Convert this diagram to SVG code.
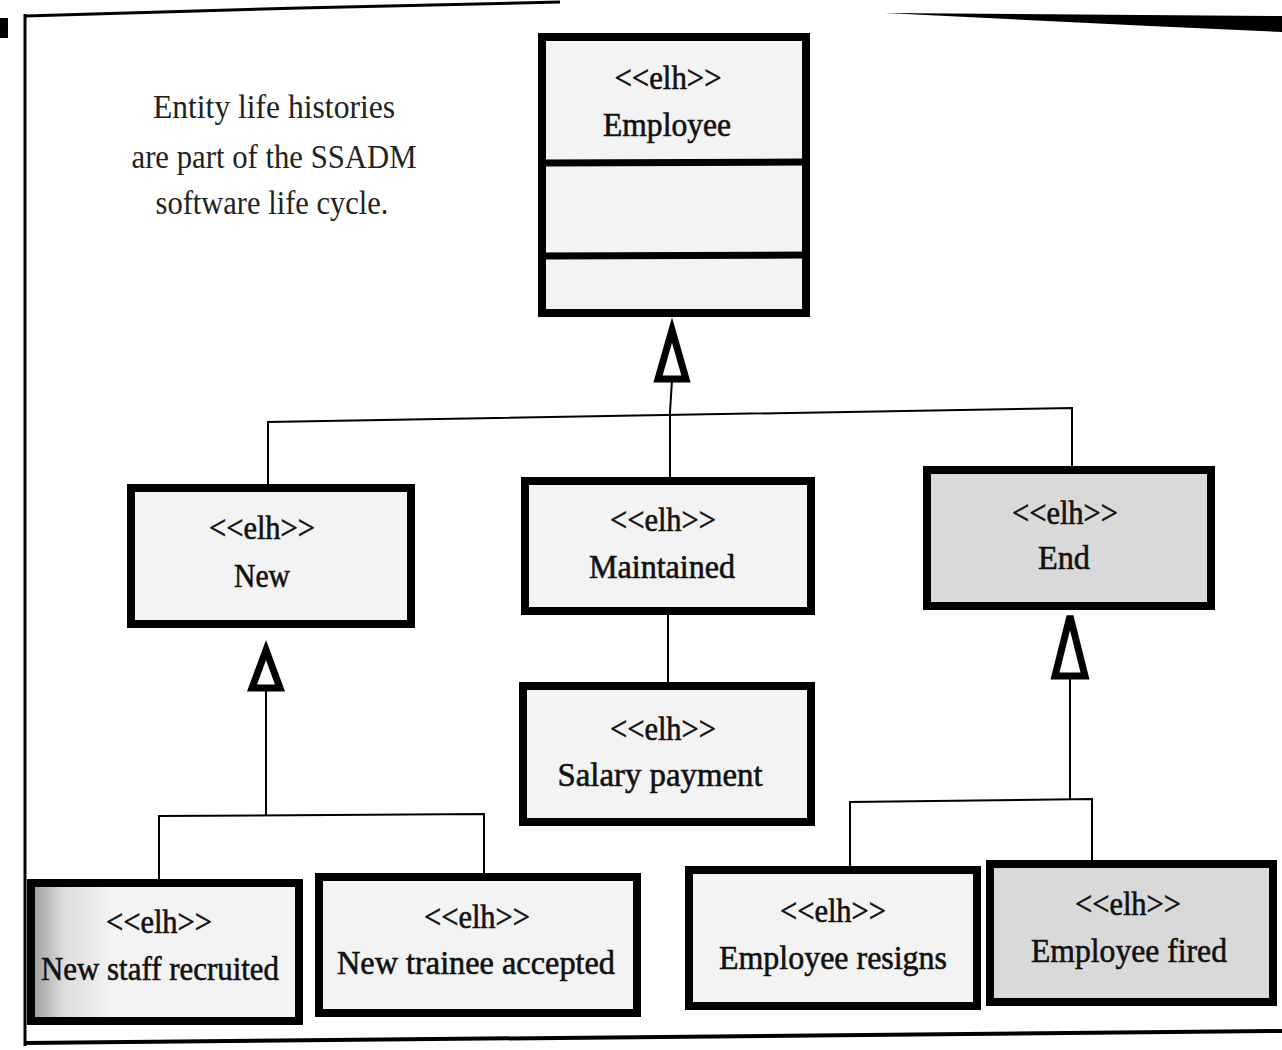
<svg xmlns="http://www.w3.org/2000/svg" width="1282" height="1050" viewBox="0 0 1282 1050">
  <style>
    .box { stroke: #000; stroke-width: 8; fill: #f3f3f3; }
    .box.dark { fill: #d9d9d9; }
    .divider { stroke: #000; stroke-width: 7; }
    .wire { stroke: #000; stroke-width: 2; fill: none; }
    .gen { stroke: #000; stroke-width: 7; fill: #fff; stroke-linejoin: miter; }
    .lbl { font-family: "Liberation Serif", "Times New Roman", serif; font-size: 34px; fill: #111; stroke: #111; stroke-width: 0.6; text-anchor: middle; }
    .note { font-family: "Liberation Serif", "Times New Roman", serif; font-size: 33px; fill: #222; text-anchor: middle; }
    .frame { stroke: #000; fill: none; }
  </style>
  <defs>
    <linearGradient id="edgeShade" x1="0" y1="0" x2="1" y2="0">
      <stop offset="0" stop-color="#9a9a9a"/>
      <stop offset="0.12" stop-color="#dcdcdc"/>
      <stop offset="0.3" stop-color="#f3f3f3"/>
    </linearGradient>
  </defs>

  <rect width="1282" height="1050" fill="#fff"/>

  <!-- page frame -->
  <g id="frame">
    <rect x="0" y="18" width="8" height="20" fill="#000"/>
    <line class="frame" x1="25" y1="14" x2="25" y2="1046" stroke-width="3"/>
    <polyline class="frame" points="25,16 300,8 560,2" stroke-width="3"/>
    <polygon points="885,13 1282,16 1282,32 1150,26" fill="#000"/>
    <line class="frame" x1="24" y1="1043" x2="1282" y2="1031" stroke-width="4"/>
  </g>

  <!-- caption -->
  <g id="caption">
    <text class="note" x="274" y="118" textLength="242" lengthAdjust="spacingAndGlyphs">Entity life histories</text>
    <text class="note" x="274" y="168" textLength="285" lengthAdjust="spacingAndGlyphs">are part of the SSADM</text>
    <text class="note" x="272" y="214" textLength="233" lengthAdjust="spacingAndGlyphs">software life cycle.</text>
  </g>

  <!-- connectors -->
  <g id="connectors">
    <!-- Employee generalisation -->
    <line class="wire" x1="672" y1="380" x2="670" y2="412"/>
    <polyline class="wire" points="268,488 268,422 1072,408 1072,470"/>
    <line class="wire" x1="670" y1="412" x2="670" y2="480"/>
    <path class="gen" d="M672,330 L686,379 L658,379 Z"/>
    <!-- New generalisation -->
    <line class="wire" x1="266" y1="688" x2="266" y2="816"/>
    <polyline class="wire" points="159,882 159,816 484,814 484,878"/>
    <path class="gen" d="M266,650 L280,688 L252,688 Z"/>
    <!-- Maintained to Salary payment -->
    <line class="wire" x1="668" y1="614" x2="668" y2="686"/>
    <!-- End generalisation -->
    <line class="wire" x1="1070" y1="676" x2="1070" y2="800"/>
    <polyline class="wire" points="850,868 850,802 1092,799 1092,862"/>
    <path class="gen" d="M1070,616 L1085,676 L1055,676 Z"/>
  </g>

  <!-- nodes -->
  <g id="employee">
    <rect class="box" x="542" y="37" width="264" height="276"/>
    <line class="divider" x1="542" y1="163" x2="806" y2="162"/>
    <line class="divider" x1="542" y1="256" x2="806" y2="255"/>
    <text class="lbl" x="668" y="89" textLength="107" lengthAdjust="spacingAndGlyphs">&lt;&lt;elh&gt;&gt;</text>
    <text class="lbl" x="667" y="136" textLength="128" lengthAdjust="spacingAndGlyphs">Employee</text>
  </g>

  <g id="new">
    <rect class="box" x="131" y="488" width="280" height="136"/>
    <text class="lbl" x="262" y="539" textLength="106" lengthAdjust="spacingAndGlyphs">&lt;&lt;elh&gt;&gt;</text>
    <text class="lbl" x="262" y="587" textLength="56" lengthAdjust="spacingAndGlyphs">New</text>
  </g>

  <g id="maintained">
    <rect class="box" x="525" y="481" width="286" height="130"/>
    <text class="lbl" x="663" y="531" textLength="106" lengthAdjust="spacingAndGlyphs">&lt;&lt;elh&gt;&gt;</text>
    <text class="lbl" x="662" y="578" textLength="146" lengthAdjust="spacingAndGlyphs">Maintained</text>
  </g>

  <g id="end">
    <rect class="box dark" x="927" y="470" width="284" height="136"/>
    <text class="lbl" x="1065" y="524" textLength="106" lengthAdjust="spacingAndGlyphs">&lt;&lt;elh&gt;&gt;</text>
    <text class="lbl" x="1064" y="569" textLength="52" lengthAdjust="spacingAndGlyphs">End</text>
  </g>

  <g id="salary-payment">
    <rect class="box" x="523" y="686" width="288" height="136"/>
    <text class="lbl" x="663" y="740" textLength="106" lengthAdjust="spacingAndGlyphs">&lt;&lt;elh&gt;&gt;</text>
    <text class="lbl" x="660" y="786" textLength="205" lengthAdjust="spacingAndGlyphs">Salary payment</text>
  </g>

  <g id="new-staff-recruited">
    <rect class="box" x="31" y="883" width="268" height="138" style="fill:url(#edgeShade)"/>
    <text class="lbl" x="159" y="933" textLength="106" lengthAdjust="spacingAndGlyphs">&lt;&lt;elh&gt;&gt;</text>
    <text class="lbl" x="160" y="980" textLength="238" lengthAdjust="spacingAndGlyphs">New staff recruited</text>
  </g>

  <g id="new-trainee-accepted">
    <rect class="box" x="319" y="877" width="318" height="136"/>
    <text class="lbl" x="477" y="928" textLength="106" lengthAdjust="spacingAndGlyphs">&lt;&lt;elh&gt;&gt;</text>
    <text class="lbl" x="476" y="974" textLength="278" lengthAdjust="spacingAndGlyphs">New trainee accepted</text>
  </g>

  <g id="employee-resigns">
    <rect class="box" x="689" y="870" width="288" height="136"/>
    <text class="lbl" x="833" y="922" textLength="106" lengthAdjust="spacingAndGlyphs">&lt;&lt;elh&gt;&gt;</text>
    <text class="lbl" x="833" y="969" textLength="228" lengthAdjust="spacingAndGlyphs">Employee resigns</text>
  </g>

  <g id="employee-fired">
    <rect class="box dark" x="990" y="864" width="283" height="138"/>
    <text class="lbl" x="1128" y="915" textLength="106" lengthAdjust="spacingAndGlyphs">&lt;&lt;elh&gt;&gt;</text>
    <text class="lbl" x="1129" y="962" textLength="196" lengthAdjust="spacingAndGlyphs">Employee fired</text>
  </g>
</svg>
